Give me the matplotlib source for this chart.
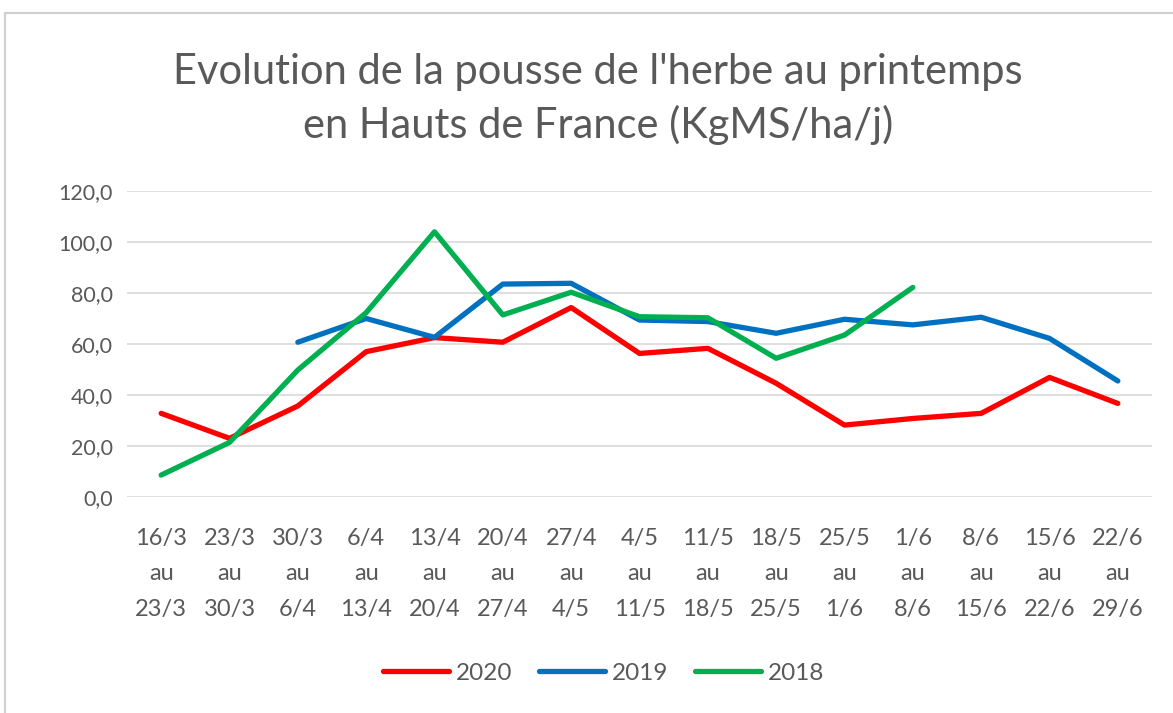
import matplotlib
matplotlib.use("Agg")
import matplotlib.pyplot as plt
from matplotlib.patches import Rectangle
import numpy as np

categories = ["16/3\nau\n23/3", "23/3\nau\n30/3", "30/3\nau\n6/4", "6/4\nau\n13/4",
              "13/4\nau\n20/4", "20/4\nau\n27/4", "27/4\nau\n4/5", "4/5\nau\n11/5",
              "11/5\nau\n18/5", "18/5\nau\n25/5", "25/5\nau\n1/6", "1/6\nau\n8/6",
              "8/6\nau\n15/6", "15/6\nau\n22/6", "22/6\nau\n29/6"]
nan = np.nan
s2020 = [32.8, 23.0, 35.7, 57.0, 62.5, 60.7, 74.3, 56.3, 58.3, 44.6, 28.2, 30.8, 32.8, 46.9, 36.7]
s2019 = [nan, nan, 60.7, 70.0, 62.6, 83.5, 83.8, 69.4, 68.8, 64.2, 69.7, 67.5, 70.5, 62.2, 45.5]
s2018 = [8.6, 21.4, 49.8, 72.3, 104.0, 71.4, 80.3, 70.7, 70.3, 54.4, 63.5, 82.2, nan, nan, nan]
series_names = ["2020", "2019", "2018"]
colors = ["#FF0000", "#0070C0", "#00B050"]
yticks = [0, 20, 40, 60, 80, 100, 120]
title = "Evolution de la pousse de l'herbe au printemps\nen Hauts de France (KgMS/ha/j)"

plt.rcParams['font.family'] = ['Lato', 'DejaVu Sans']
text_color = "#595959"

fig = plt.figure(figsize=(11.73, 7.13), dpi=100)
fig.patch.set_facecolor("white")
# chart frame
fig.patches.append(Rectangle((5 / 1173, -0.1), 1.2, (713 - 13) / 713 + 0.1, transform=fig.transFigure,
                             fill=False, edgecolor="#D0D0D0", linewidth=1.5))

ax = fig.add_axes([127 / 1173, 1 - 497 / 713, (1152 - 127) / 1173, (497 - 191) / 713])
x = np.arange(len(categories))
for vals, name, c in zip([s2020, s2019, s2018], series_names, colors):
    ax.plot(x, vals, color=c, linewidth=3.8, label=name, solid_capstyle="round", solid_joinstyle="round")

ax.set_xlim(-0.5, len(categories) - 0.5)
ax.set_ylim(0, 120)
ax.set_yticks(yticks)
ax.set_yticklabels([f"{v:.1f}".replace(".", ",") for v in yticks])
ax.set_xticks(x)
ax.set_xticklabels(categories, linespacing=1.87)
ax.tick_params(axis="both", length=0, colors=text_color)
ax.tick_params(axis="x", pad=22, labelsize=17)
ax.tick_params(axis="y", pad=10, labelsize=15.5)
ax.grid(axis="y", color="#D9D9D9", linewidth=1.2)
ax.set_axisbelow(True)
for sp in ax.spines.values():
    sp.set_visible(False)

fig.text(598 / 1173, 1 - 99 / 713, title, ha="center", va="center", fontsize=30,
         color=text_color, linespacing=1.4)

leg = fig.legend(loc="center", bbox_to_anchor=(604 / 1173, 1 - 673 / 713), ncol=3, frameon=False,
                 fontsize=17.5, handlelength=2.7, handletextpad=0.3, columnspacing=1.1)
for t in leg.get_texts():
    t.set_color(text_color)

fig.savefig("out.png", dpi=100, facecolor="white")
